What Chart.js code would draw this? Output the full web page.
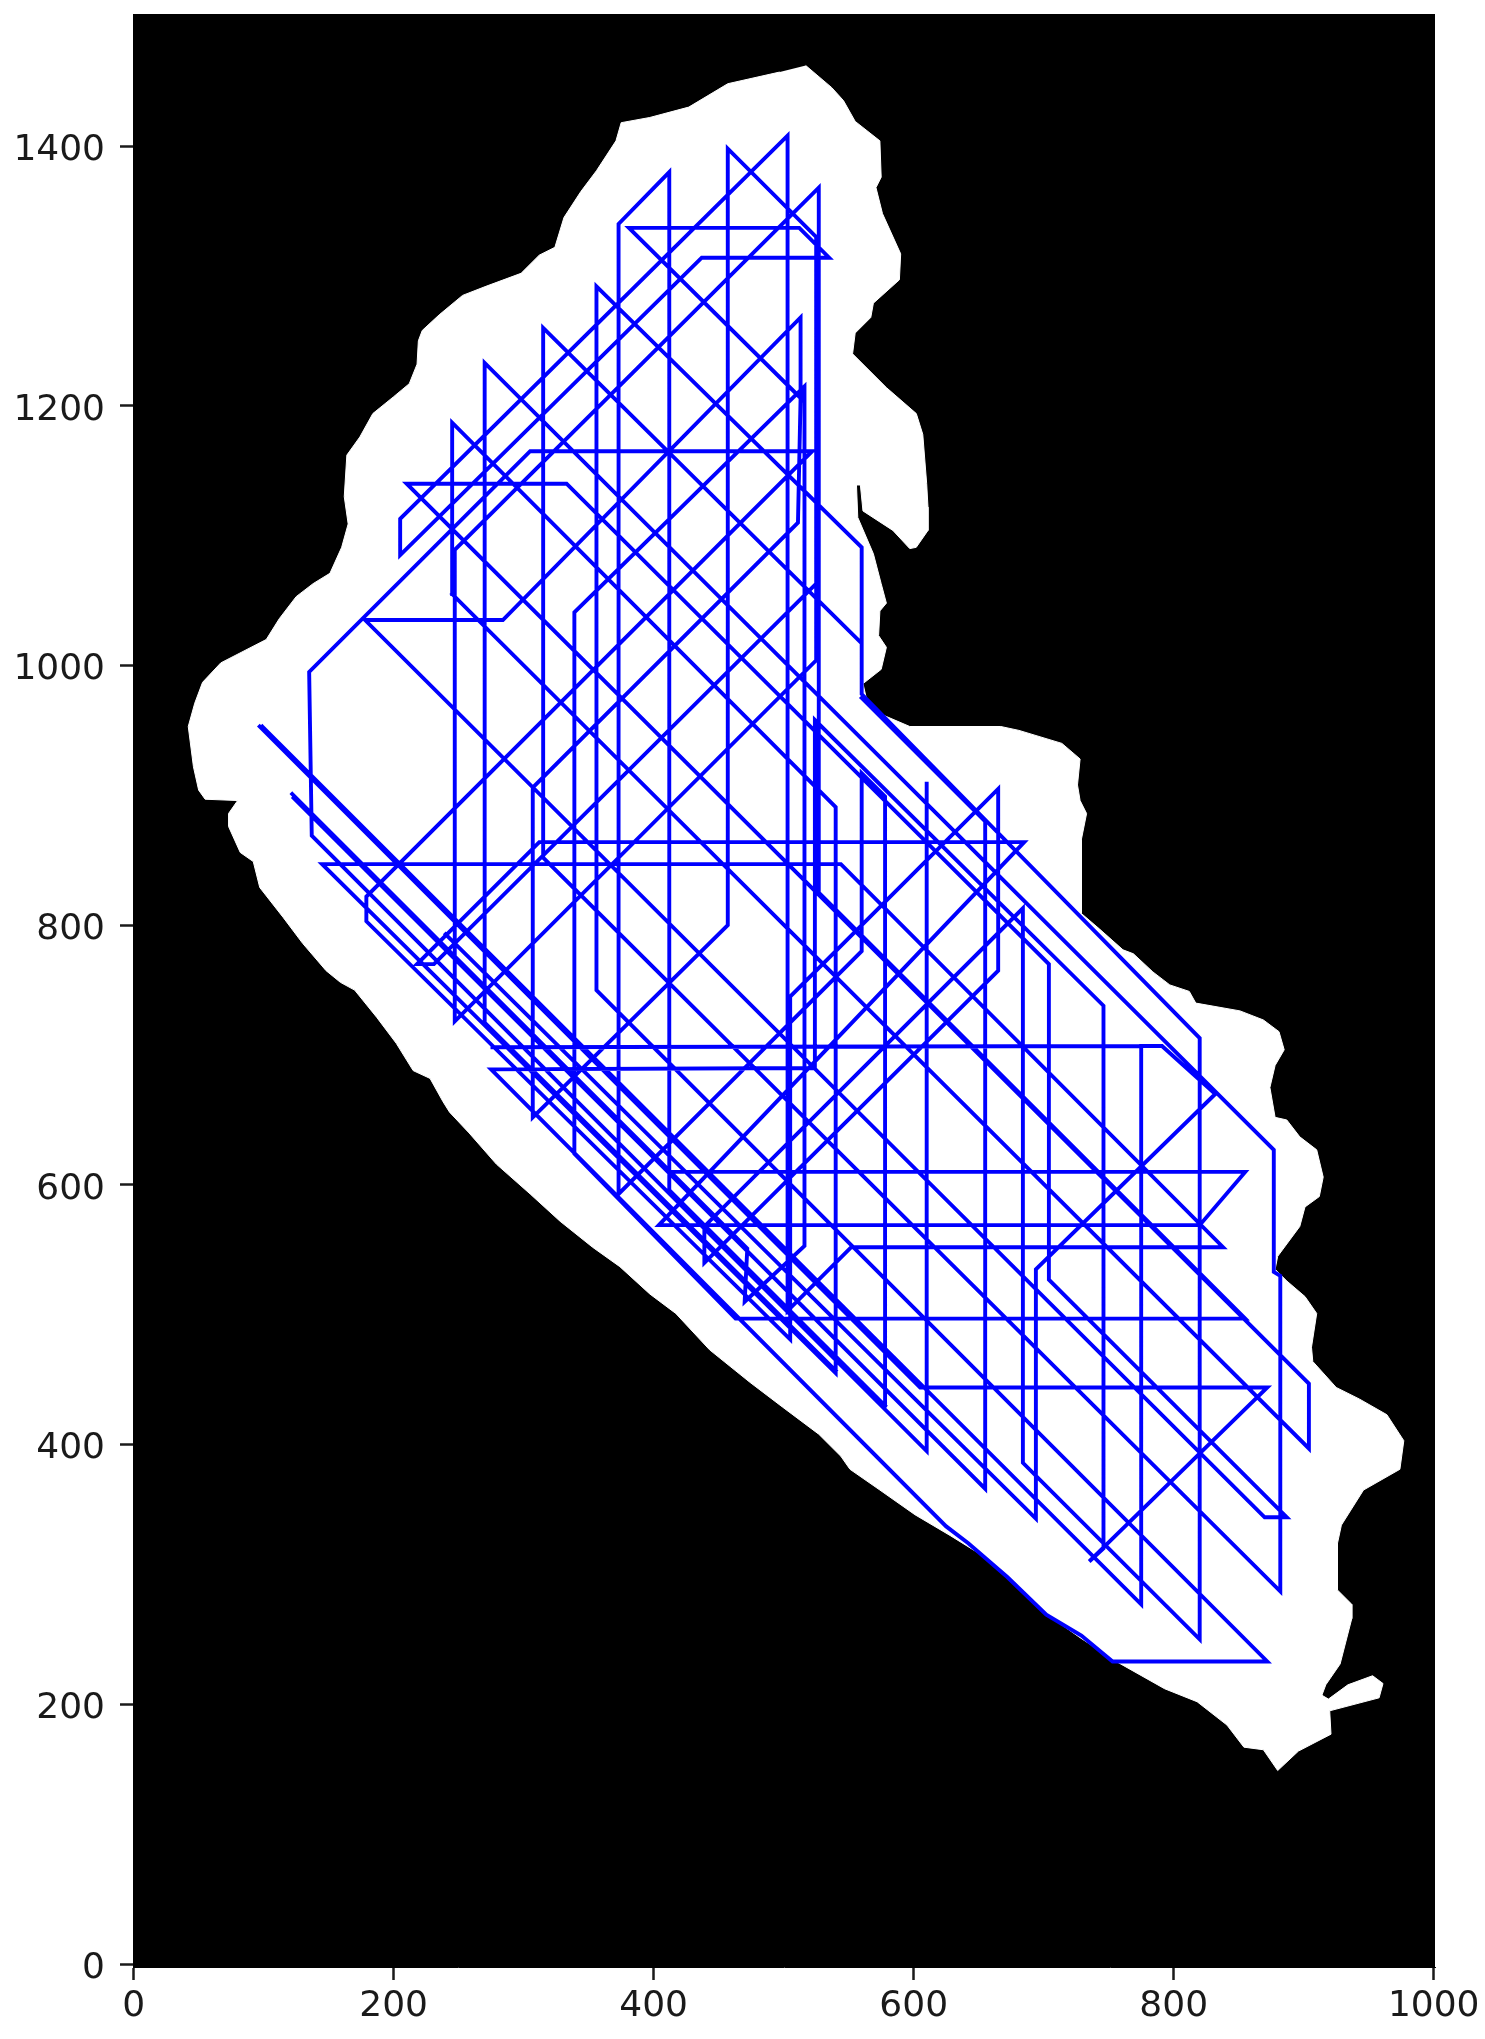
<!DOCTYPE html>
<html><head><meta charset="utf-8">
<style>html,body{margin:0;padding:0;background:#fff}canvas{display:block}</style>
<script src="https://cdn.jsdelivr.net/npm/chart.js@4"></script>
</head><body><canvas id="c" width="1485" height="2039"></canvas>
<script>
const xTicks=[0,200,400,600,800,1000];
const yTicks=[0,200,400,600,800,1000,1200,1400];
const maskX=[517,537,546,555,574,575,571,576,590,589,569,567,555,553,579,602,607,610,611,611,602,597,584,561,559,556,557,569,575,579,574,573,579,575,561,564,576,597,667,681,714,728,726,728,733,729,729,743,761,769,784,797,812,817,851,869,881,885,878,874,878,887,897,910,915,912,901,897,880,878,887,901,910,906,907,925,943,964,977,974,946,929,926,926,937,937,928,917,914,919,934,953,961,958,920,921,896,880,869,854,841,818,793,754,727,700,673,649,628,601,574,551,544,527,499,474,443,417,397,374,353,328,305,279,258,243,238,228,215,202,187,170,159,148,130,115,97,92,82,73,73,80,55,50,46,42,47,53,67,102,112,125,138,151,160,165,162,164,174,184,200,212,218,219,222,235,253,271,298,312,324,331,344,356,371,375,397,427,457,497];
const maskY=[1462,1445,1435,1419,1404,1376,1368,1348,1317,1297,1279,1268,1256,1240,1214,1194,1178,1140,1122,1104,1091,1090,1104,1119,1139,1139,1114,1086,1063,1048,1042,1023,1014,997,986,973,962,953,953,950,940,928,908,896,886,866,809,797,781,778,764,754,749,740,734,727,718,704,692,675,652,650,637,627,606,591,583,568,545,535,526,514,501,475,464,444,435,423,403,381,365,338,324,288,277,266,231,215,207,204,215,222,216,205,195,177,164,149,165,167,184,202,212,234,252,271,298,317,330,346,365,381,391,408,429,448,473,501,516,537,552,572,593,616,640,656,664,682,688,709,729,750,756,765,786,806,829,849,856,876,886,896,897,904,922,953,971,987,1002,1020,1036,1053,1063,1071,1091,1109,1130,1162,1176,1194,1207,1217,1232,1250,1258,1270,1285,1292,1302,1316,1322,1345,1365,1381,1404,1418,1422,1430,1448,1457];
const pathX=[97,605,872,735,746,746,524,524,275,625,642,672,702,729,753,872,356,356,560,560,315,315,882,882,877,877,270,270,540,null,
560,560,820,820,684,684,439,439,665,665,505,505,179,179,522,305,135,137,610,610,null,
578,412,412,373,373,560,560,578,578,null,
245,904,904,210,333,704,704,887,870,178,284,513,513,381,512,535,437,205,205,503,503,552,838,544,145,540,540,245,245,null,
525,457,457,307,307,511,513,null,
525,525,null,
122,472,470,516,516,339,339,463,855,527,527,247,247,525,525,231,218,312,685,404,820,855,412,122,655,655,560,null,
99,775,775,791,832,694,694,240,null,
775,276];
const pathY=[953,444,444,310,320,738,958,690,689,337,324,298,269,253,233,233,750,1292,1091,1017,1260,852,287,530,533,627,1233,725,457,null,
1017,978,713,250,386,813,568,540,765,905,745,481,803,822,1165,1165,995,869,395,909,null,
430,596,1380,1340,593,780,917,899,430,null,
1055,397,447,1140,1140,770,527,344,344,1035,1035,1268,1206,1337,1337,1314,1314,1085,1113,1408,503,552,552,847,847,455,891,1187,1055,null,
1330,1398,800,652,906,1110,1206,null,
1330,1009,null,
901,551,510,553,1215,1041,624,497,497,825,1368,1089,726,1004,1063,770,770,864,864,569,569,610,610,899,366,880,975,null,
953,277,707,707,670,535,343,793,null,
707,706];
const toPts=(xs,ys)=>xs.map((x,i)=>({x:x,y:ys[i]}));
const paintArea={id:'paintArea',beforeDraw(ch){const a=ch.chartArea,g=ch.ctx;g.save();g.fillStyle='#000';g.fillRect(a.left,a.top,a.right-a.left,a.bottom-a.top);g.restore();}};
const gridCfg={display:true,drawOnChartArea:false,drawTicks:true,tickLength:13,tickWidth:2.5,tickColor:'#1a1a1a',color:'#000'};
new Chart(document.getElementById('c'),{
 type:'scatter',
 data:{datasets:[
  {label:'path',data:toPts(pathX,pathY),showLine:true,spanGaps:false,borderColor:'#0000ff',borderWidth:3.9,pointRadius:0,fill:false,tension:0,order:0,borderJoinStyle:'miter',borderCapStyle:'square'},
  {label:'mask',data:toPts(maskX,maskY),showLine:true,borderColor:'#fff',borderWidth:1,backgroundColor:'#fff',pointRadius:0,fill:'shape',tension:0,order:1}
 ]},
 options:{
  responsive:false,animation:false,devicePixelRatio:1,
  layout:{padding:{left:0,right:50,top:14,bottom:0}},
  plugins:{legend:{display:false},title:{display:false},tooltip:{enabled:false}},
  scales:{
   x:{type:'linear',min:-0.5,max:1001,grid:gridCfg,border:{display:true,color:'#000',width:1},
      afterBuildTicks:s=>{s.ticks=xTicks.map(v=>({value:v}));},
      afterFit:s=>{s.height=72;s.paddingLeft=0;s.paddingRight=0;},
      ticks:{color:'#1a1a1a',font:{family:'"DejaVu Sans"',size:36},padding:5,autoSkip:false,maxRotation:0,minRotation:0,callback:v=>String(v)}},
   y:{type:'linear',min:-2.3,max:1501.7,grid:gridCfg,border:{display:true,color:'#000',width:1},
      afterBuildTicks:s=>{s.ticks=yTicks.map(v=>({value:v}));},
      afterFit:s=>{s.width=133;s.paddingTop=0;s.paddingBottom=0;},
      ticks:{color:'#1a1a1a',font:{family:'"DejaVu Sans"',size:36,lineHeight:'9px'},padding:15,autoSkip:false,callback:v=>['',String(v)]}}
  }
 },
 plugins:[paintArea]
});
</script></body></html>
